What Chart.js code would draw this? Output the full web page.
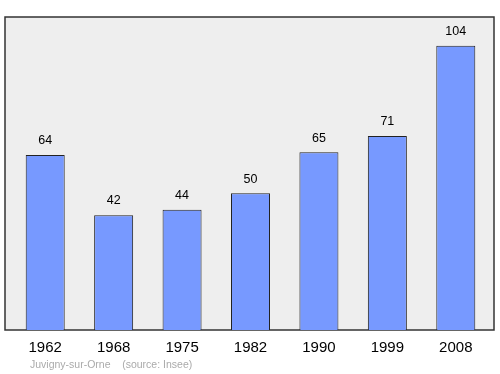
<!DOCTYPE html>
<html>
<head>
<meta charset="utf-8">
<script src="https://cdn.jsdelivr.net/npm/chart.js@4"></script>
<style>
  html, body { margin: 0; padding: 0; background: #fff; }
  #wrap { width: 500px; height: 374px; position: relative; }
</style>
</head>
<body>
<div id="wrap"><canvas id="chart" width="500" height="374"></canvas></div>
<script>
const annees = ['1962', '1968', '1975', '1982', '1990', '1999', '2008'];
const population = [64, 42, 44, 50, 65, 71, 104];
const sourceTexte = 'Juvigny-sur-Orne    (source: Insee)';

// fond gris + cadre, étiquettes de valeur, source
const decorPlugin = {
  id: 'decor',
  beforeDatasetsDraw(chart) {
    const { ctx, chartArea } = chart;
    ctx.save();
    ctx.fillStyle = '#eeeeee';
    ctx.fillRect(5, chartArea.top, 489, chartArea.bottom - chartArea.top);
    ctx.strokeStyle = '#333';
    ctx.lineWidth = 1.5;
    ctx.strokeRect(5, chartArea.top, 489, chartArea.bottom - chartArea.top);
    ctx.restore();
  },
  afterDatasetsDraw(chart) {
    const { ctx } = chart;
    const meta = chart.getDatasetMeta(0);
    ctx.save();
    ctx.fillStyle = '#000';
    ctx.font = '12.5px "Liberation Sans", Arial, sans-serif';
    ctx.textAlign = 'center';
    ctx.textBaseline = 'bottom';
    meta.data.forEach((bar, i) => {
      ctx.fillText(population[i], bar.x, bar.y - 8);
    });
    ctx.fillStyle = '#aaa';
    ctx.font = '10.5px "Liberation Sans", Arial, sans-serif';
    ctx.textAlign = 'left';
    ctx.textBaseline = 'middle';
    ctx.fillText(sourceTexte, 30, 365);
    ctx.restore();
  }
};

new Chart(document.getElementById('chart'), {
  type: 'bar',
  data: {
    labels: annees,
    datasets: [{
      data: population,
      backgroundColor: '#7799ff',
      borderColor: '#222',
      borderWidth: 1,
      barPercentage: 0.57,
      categoryPercentage: 1
    }]
  },
  options: {
    responsive: false,
    animation: false,
    layout: { padding: { left: 11, right: 10, top: 17, bottom: 0 } },
    plugins: { legend: { display: false }, tooltip: { enabled: false } },
    scales: {
      y: { display: false, min: 0, max: 114.5 },
      x: {
        grid: { display: false, drawTicks: false },
        border: { display: false },
        ticks: { color: '#000', font: { size: 15, family: '"Liberation Sans", Arial, sans-serif' }, padding: 9 },
        afterFit(scale) { scale.height = 44; }
      }
    }
  },
  plugins: [decorPlugin]
});
</script>
</body>
</html>
